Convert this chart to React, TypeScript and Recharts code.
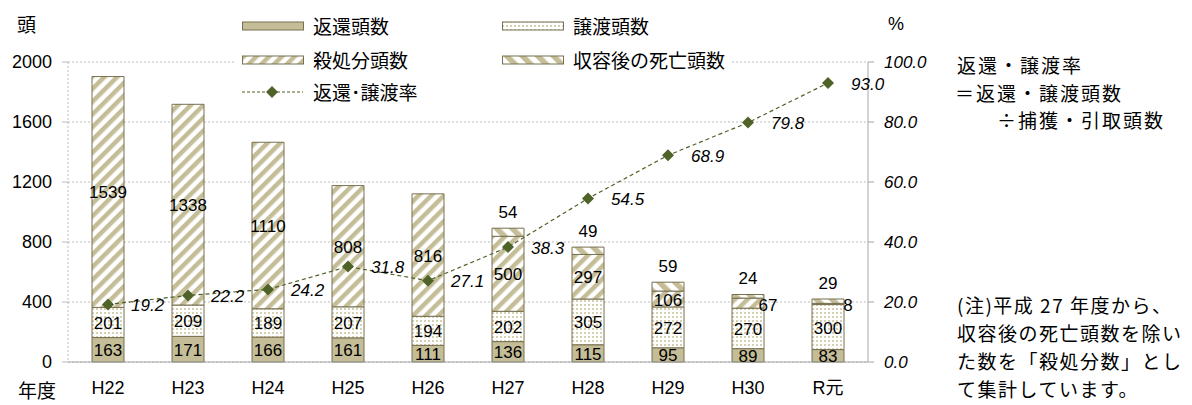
import {
  Bar,
  CartesianGrid,
  ComposedChart,
  LabelList,
  Line,
  XAxis,
  YAxis,
} from 'recharts';

const years = ['H22', 'H23', 'H24', 'H25', 'H26', 'H27', 'H28', 'H29', 'H30', 'R元'];
const returned = [163, 171, 166, 161, 111, 136, 115, 95, 89, 83];
const transferred = [201, 209, 189, 207, 194, 202, 305, 272, 270, 300];
const culled = [1539, 1338, 1110, 808, 816, 500, 297, 106, 67, 8];
const deaths = [null, null, null, null, null, 54, 49, 59, 24, 29];
const rate = [19.2, 22.2, 24.2, 31.8, 27.1, 38.3, 54.5, 68.9, 79.8, 93.0];
const countTicks = [0, 400, 800, 1200, 1600, 2000];
const rateTicks = [0, 20, 40, 60, 80, 100];

const data = years.map((year, i) => ({
  year,
  returned: returned[i],
  transferred: transferred[i],
  culled: culled[i],
  deaths: deaths[i],
  rate: rate[i],
}));

const FONT = "'Liberation Sans', 'Noto Sans CJK JP', sans-serif";
const JP = "'Noto Sans CJK JP', sans-serif";
const TAN = '#c4bd97';
const EDGE = '#777050';
const GREEN = '#4f6228';
const GRID = '#bdbdbd';
const AXIS = '#a6a6a6';

// label centred in a stacked segment; tiny segments get pushed to the right of the bar
function segmentLabel(props: any) {
  const { x, y, width, height, value } = props;
  if (value == null || value === 0) return null;
  const small = Math.abs(height) < 12;
  const cx = small ? x + width + 4 : x + width / 2;
  const cy = y + height / 2 + (small ? 2 : 1);
  return (
    <text
      x={cx}
      y={cy}
      textAnchor="middle"
      dominantBaseline="central"
      fontFamily={FONT}
      fontSize={17}
      fill="#000"
    >
      {value}
    </text>
  );
}

function topLabel(props: any) {
  const { x, y, width, value } = props;
  if (value == null) return null;
  return (
    <text
      x={x + width / 2}
      y={y - 16}
      textAnchor="middle"
      dominantBaseline="central"
      fontFamily={FONT}
      fontSize={17}
      fill="#000"
    >
      {value}
    </text>
  );
}

function rateLabel(props: any) {
  const { x, y, value } = props;
  return (
    <text
      x={x + 23}
      y={y + 1}
      dominantBaseline="central"
      fontFamily={FONT}
      fontSize={17}
      fontStyle="italic"
      fill="#000"
    >
      {Number(value).toFixed(1)}
    </text>
  );
}

function Diamond(props: any) {
  const { cx, cy } = props;
  if (cx == null || cy == null) return null;
  return <path d={`M${cx},${cy - 6}L${cx + 6},${cy}L${cx},${cy + 6}L${cx - 6},${cy}Z`} fill={GREEN} />;
}

function Patterns() {
  return (
    <defs>
      <pattern id="dots" patternUnits="userSpaceOnUse" width="4" height="4">
        <rect width="4" height="4" fill="#fff" />
        <rect width="2" height="2" fill="#d6d0b2" />
      </pattern>
      <pattern id="slash" patternUnits="userSpaceOnUse" width="9" height="9" patternTransform="rotate(45)">
        <rect width="9" height="9" fill="#fff" />
        <rect width="4.5" height="9" fill={TAN} />
      </pattern>
      <pattern id="back" patternUnits="userSpaceOnUse" width="11" height="11" patternTransform="rotate(-45)">
        <rect width="11" height="11" fill="#fff" />
        <rect width="5.5" height="11" fill={TAN} />
      </pattern>
    </defs>
  );
}

const legendRows = [
  { label: '返還頭数', fill: TAN, left: 242, top: 26 },
  { label: '譲渡頭数', fill: 'url(#dots)', left: 502, top: 26 },
  { label: '殺処分頭数', fill: 'url(#slash)', left: 242, top: 60 },
  { label: '収容後の死亡頭数', fill: 'url(#back)', left: 502, top: 60 },
];

function LegendBox() {
  return (
    <div
      style={{
        position: 'absolute',
        left: 236,
        top: 8,
        width: 494,
        height: 100,
        background: '#fff',
      }}
    >
      {legendRows.map((row) => (
        <div key={row.label}>
          <svg
            width={62}
            height={10}
            style={{ position: 'absolute', left: row.left - 236, top: row.top - 8 - 5 }}
          >
            <rect x={0.5} y={1} width={61} height={8} fill={row.fill} stroke={EDGE} />
          </svg>
          <span
            style={{
              position: 'absolute',
              left: row.left - 236 + 71,
              top: row.top - 8 - 14,
              fontFamily: JP,
              fontSize: 19,
              lineHeight: '28px',
              whiteSpace: 'nowrap',
            }}
          >
            {row.label}
          </span>
        </div>
      ))}
      <svg width={62} height={14} style={{ position: 'absolute', left: 6, top: 92 - 8 - 7 }}>
        <line x1={0} y1={7} x2={61} y2={7} stroke={GREEN} strokeDasharray="3 2" />
        <Diamond cx={30} cy={7} />
      </svg>
      <span
        style={{
          position: 'absolute',
          left: 77,
          top: 92 - 8 - 14,
          fontFamily: JP,
          fontSize: 19,
          lineHeight: '28px',
          whiteSpace: 'nowrap',
        }}
      >
        返還･譲渡率
      </span>
    </div>
  );
}

const textStyle = {
  position: 'absolute' as const,
  fontFamily: JP,
  fontSize: 19,
  lineHeight: '28px',
  whiteSpace: 'nowrap' as const,
  color: '#000',
};

export default function App() {
  return (
    <div style={{ position: 'absolute', left: 0, top: 0, width: 1192, height: 405, background: '#fff', overflow: 'hidden' }}>
      <svg width={0} height={0} style={{ position: 'absolute' }}>
        <Patterns />
      </svg>
      <ComposedChart
        width={1192}
        height={405}
        data={data}
        margin={{ top: 62, right: 0, left: 0, bottom: 0 }}
      >
        <CartesianGrid
          yAxisId="left"
          vertical={false}
          stroke={GRID}
          strokeDasharray="2 2"
        />
        <XAxis
          dataKey="year"
          height={43}
          tickLine={false}
          tickSize={0}
          tickMargin={19}
          axisLine={{ stroke: AXIS }}
          tick={{ fill: '#000', fontSize: 18, fontFamily: FONT }}
        />
        <YAxis
          yAxisId="left"
          width={68}
          domain={[0, 2000]}
          ticks={countTicks}
          interval={0}
          tickSize={6}
          tickMargin={10}
          axisLine={{ stroke: GRID, strokeDasharray: '2 2' }}
          tickLine={{ stroke: GRID }}
          tick={{ fill: '#000', fontSize: 18, fontFamily: FONT }}
        />
        <YAxis
          yAxisId="right"
          orientation="right"
          width={324}
          domain={[0, 100]}
          ticks={rateTicks}
          interval={0}
          tickSize={6}
          tickMargin={10}
          axisLine={{ stroke: AXIS }}
          tickLine={{ stroke: AXIS }}
          tickFormatter={(v) => Number(v).toFixed(1)}
          tick={{ fill: '#000', fontSize: 17, fontFamily: FONT, fontStyle: 'italic' }}
        />
        <Bar yAxisId="left" dataKey="returned" stackId="a" barSize={32} fill={TAN} stroke={EDGE} isAnimationActive={false}>
          <LabelList dataKey="returned" content={segmentLabel} />
        </Bar>
        <Bar yAxisId="left" dataKey="transferred" stackId="a" barSize={32} fill="url(#dots)" stroke={EDGE} isAnimationActive={false}>
          <LabelList dataKey="transferred" content={segmentLabel} />
        </Bar>
        <Bar yAxisId="left" dataKey="culled" stackId="a" barSize={32} fill="url(#slash)" stroke={EDGE} isAnimationActive={false}>
          <LabelList dataKey="culled" content={segmentLabel} />
        </Bar>
        <Bar yAxisId="left" dataKey="deaths" stackId="a" barSize={32} fill="url(#back)" stroke={EDGE} isAnimationActive={false}>
          <LabelList dataKey="deaths" content={topLabel} />
        </Bar>
        <Line
          yAxisId="right"
          dataKey="rate"
          type="linear"
          stroke={GREEN}
          strokeWidth={1.2}
          strokeDasharray="4 3"
          dot={<Diamond />}
          activeDot={false}
          isAnimationActive={false}
        >
          <LabelList dataKey="rate" content={rateLabel} />
        </Line>
      </ComposedChart>

      <LegendBox />

      <div style={{ ...textStyle, left: 17, top: 10 }}>頭</div>
      <div style={{ ...textStyle, left: 18, top: 376 }}>年度</div>
      <div style={{ ...textStyle, left: 888, top: 10, fontFamily: FONT, fontSize: 18 }}>%</div>

      <div style={{ ...textStyle, left: 957, top: 51, letterSpacing: 2 }}>返還・譲渡率</div>
      <div style={{ ...textStyle, left: 955, top: 79, letterSpacing: 2 }}>＝返還・譲渡頭数</div>
      <div style={{ ...textStyle, left: 997, top: 106, letterSpacing: 2 }}>÷捕獲・引取頭数</div>

      <div style={{ ...textStyle, left: 957, top: 291, letterSpacing: 1.5 }}>(注)平成 27 年度から、</div>
      <div style={{ ...textStyle, left: 957, top: 319, letterSpacing: 1.5 }}>収容後の死亡頭数を除い</div>
      <div style={{ ...textStyle, left: 957, top: 347, letterSpacing: 1.5 }}>た数を「殺処分数」とし</div>
      <div style={{ ...textStyle, left: 957, top: 375, letterSpacing: 1.5 }}>て集計しています。</div>
    </div>
  );
}
